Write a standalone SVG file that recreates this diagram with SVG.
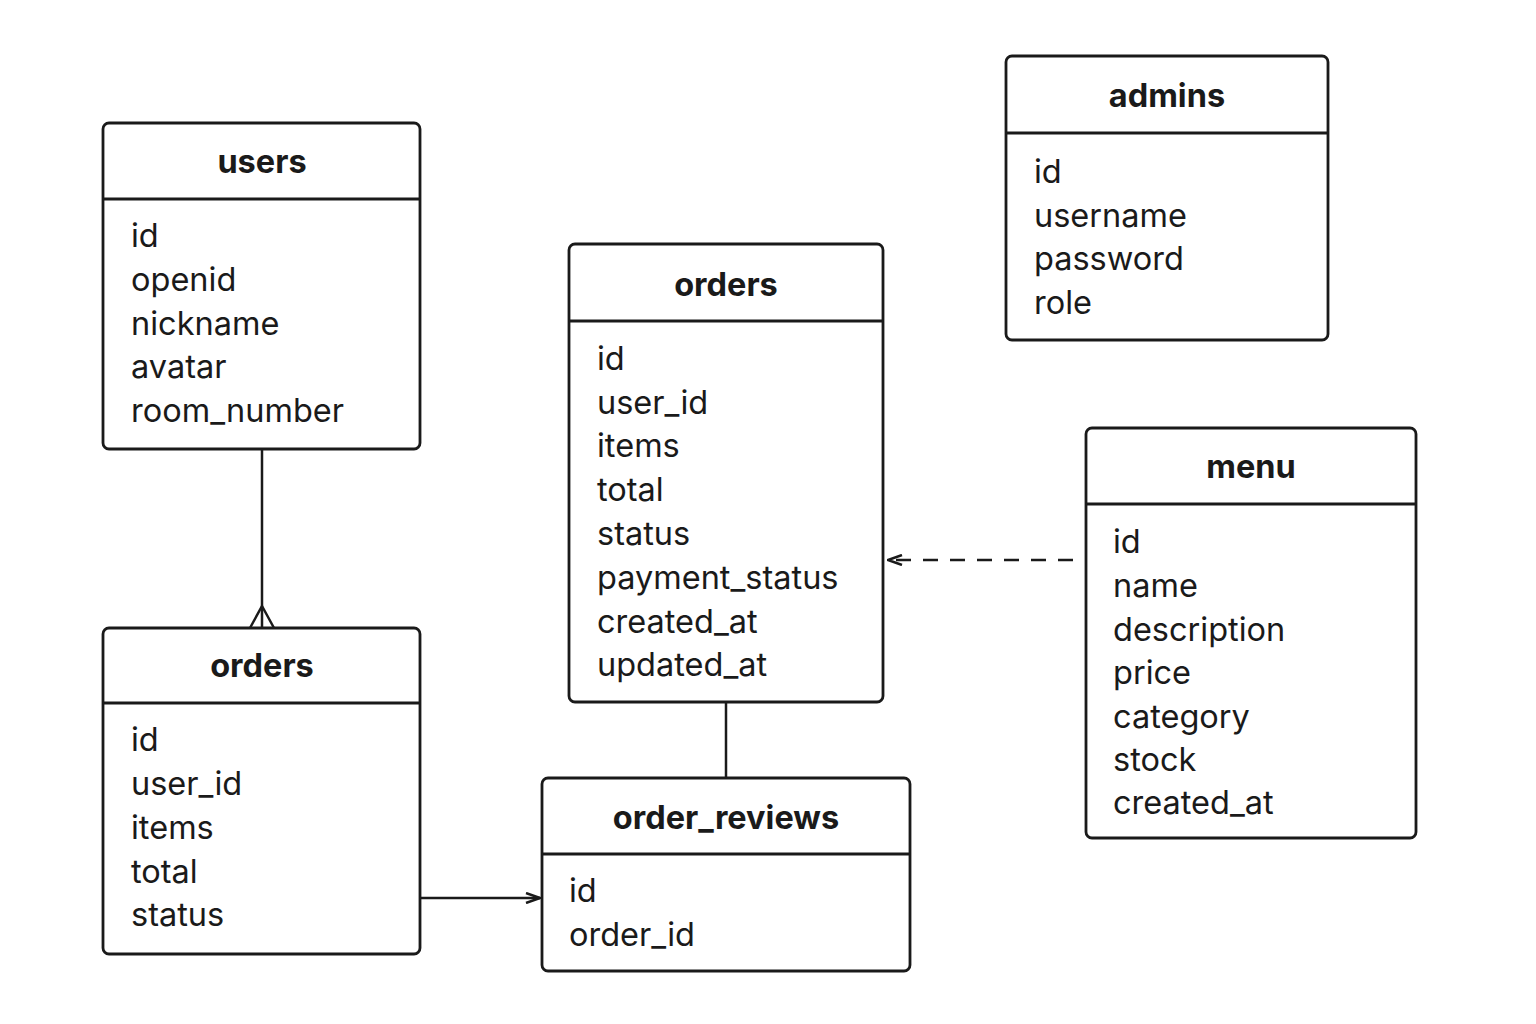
<svg xmlns="http://www.w3.org/2000/svg" width="1536" height="1024" viewBox="0 0 1536 1024">
<style>
.box{fill:#fff;stroke:#1a1a1a;stroke-width:2.8}
.sep{stroke:#1a1a1a;stroke-width:2.8}
.title{font-family:Inter,"Liberation Sans",sans-serif;font-weight:700;font-size:32.5px;fill:#1a1a1a;text-anchor:middle}
.f{font-family:Inter,"Liberation Sans",sans-serif;font-size:32.5px;fill:#1a1a1a}
.c{stroke:#1a1a1a;stroke-width:2.5;fill:none}
</style>
<defs>
<marker id="arr" markerWidth="16" markerHeight="12" refX="15" refY="6" orient="auto" markerUnits="userSpaceOnUse">
<path d="M1,1 L15,6 L1,11" fill="none" stroke="#1a1a1a" stroke-width="2.5"/>
</marker>
</defs>
<rect width="1536" height="1024" fill="#fff"/>
<g id="connectors">
<path class="c" d="M262,449 V628"/>
<path class="c" d="M250,628 L262,606 L274,628"/>
<path class="c" d="M420,898 H540" marker-end="url(#arr)"/>
<path class="c" d="M1073,560 H888" stroke-dasharray="15,12" marker-end="url(#arr)"/>
<path class="c" d="M726,702 V778"/>
</g>
<g id="users">
<rect class="box" x="103" y="123" width="317" height="326" rx="6"/>
<line class="sep" x1="103" y1="199" x2="420" y2="199"/>
<text class="title" x="262" y="173">users</text>
<text class="f" x="131" y="247">id</text>
<text class="f" x="131" y="291">openid</text>
<text class="f" x="131" y="335">nickname</text>
<text class="f" x="131" y="378">avatar</text>
<text class="f" x="131" y="422">room_number</text>
</g>
<g id="orders_left">
<rect class="box" x="103" y="628" width="317" height="326" rx="6"/>
<line class="sep" x1="103" y1="703" x2="420" y2="703"/>
<text class="title" x="262" y="677">orders</text>
<text class="f" x="131" y="751">id</text>
<text class="f" x="131" y="795">user_id</text>
<text class="f" x="131" y="839">items</text>
<text class="f" x="131" y="883">total</text>
<text class="f" x="131" y="926">status</text>
</g>
<g id="orders_main">
<rect class="box" x="569" y="244" width="314" height="458" rx="6"/>
<line class="sep" x1="569" y1="321" x2="883" y2="321"/>
<text class="title" x="726" y="296">orders</text>
<text class="f" x="597" y="370">id</text>
<text class="f" x="597" y="414">user_id</text>
<text class="f" x="597" y="457">items</text>
<text class="f" x="597" y="501">total</text>
<text class="f" x="597" y="545">status</text>
<text class="f" x="597" y="589">payment_status</text>
<text class="f" x="597" y="633">created_at</text>
<text class="f" x="597" y="676">updated_at</text>
</g>
<g id="admins">
<rect class="box" x="1006" y="56" width="322" height="284" rx="6"/>
<line class="sep" x1="1006" y1="133" x2="1328" y2="133"/>
<text class="title" x="1167" y="107">admins</text>
<text class="f" x="1034" y="183">id</text>
<text class="f" x="1034" y="227">username</text>
<text class="f" x="1034" y="270">password</text>
<text class="f" x="1034" y="314">role</text>
</g>
<g id="menu">
<rect class="box" x="1086" y="428" width="330" height="410" rx="6"/>
<line class="sep" x1="1086" y1="504" x2="1416" y2="504"/>
<text class="title" x="1251" y="478">menu</text>
<text class="f" x="1113" y="553">id</text>
<text class="f" x="1113" y="597">name</text>
<text class="f" x="1113" y="641">description</text>
<text class="f" x="1113" y="684">price</text>
<text class="f" x="1113" y="728">category</text>
<text class="f" x="1113" y="771">stock</text>
<text class="f" x="1113" y="814">created_at</text>
</g>
<g id="order_reviews">
<rect class="box" x="542" y="778" width="368" height="193" rx="6"/>
<line class="sep" x1="542" y1="854" x2="910" y2="854"/>
<text class="title" x="726" y="829">order_reviews</text>
<text class="f" x="569" y="902">id</text>
<text class="f" x="569" y="946">order_id</text>
</g>
</svg>
